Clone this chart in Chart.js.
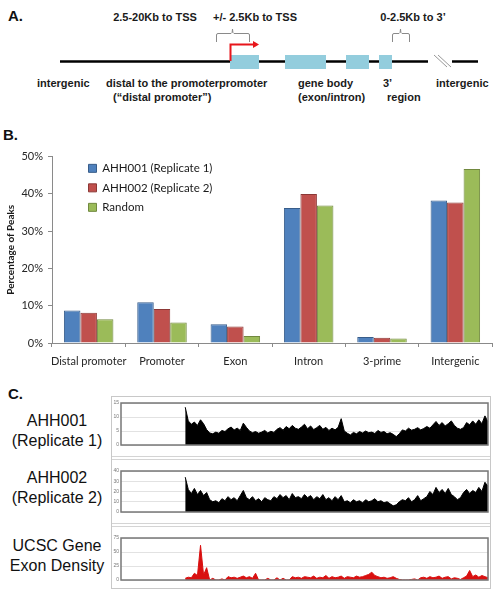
<!DOCTYPE html>
<html><head><meta charset="utf-8">
<script src="https://cdn.jsdelivr.net/npm/chart.js@4.4.0/dist/chart.umd.min.js"></script>
<style>
html,body{margin:0;padding:0;background:#fff;width:498px;height:595px;overflow:hidden;font-family:"Liberation Sans",Arial,sans-serif;}
canvas{position:absolute;}
.plabel{position:absolute;font-weight:bold;font-size:15px;color:#111;line-height:16px;}
.tl{position:absolute;left:0;width:114px;text-align:center;font-size:16px;color:#111;line-height:20px;white-space:nowrap;}
.sep{position:absolute;left:112px;width:378px;height:0;border-top:1px solid #d4d4d4;}
svg text{font-family:"Liberation Sans",Arial,sans-serif;font-weight:bold;font-size:11px;fill:#1a1a1a;}
</style></head><body>

<svg width="498" height="110" style="position:absolute;left:0;top:0">
  <text x="8" y="21" style="font-size:15px;fill:#111">A.</text>
  <text x="155" y="21" text-anchor="middle">2.5-20Kb to TSS</text>
  <text x="255" y="21" text-anchor="middle">+/- 2.5Kb to TSS</text>
  <text x="413" y="21" text-anchor="middle">0-2.5Kb to 3’</text>
  <path d="M216.5,42 V35 Q216.5,33.5 218,33.5 H231 Q232.5,33.5 232.5,29 Q232.5,33.5 234,33.5 H248 Q249.5,33.5 249.5,35 V42" fill="none" stroke="#8a8a8a" stroke-width="1"/>
  <path d="M392.5,42 V35 Q392.5,33.5 394,33.5 H399 Q400.5,33.5 400.5,29 Q400.5,33.5 402,33.5 H408 Q409.5,33.5 409.5,35 V42" fill="none" stroke="#8a8a8a" stroke-width="1"/>
  <line x1="60" y1="61.5" x2="428" y2="61.5" stroke="#000" stroke-width="2.5"/>
  <line x1="452" y1="61.5" x2="478" y2="61.5" stroke="#000" stroke-width="2.5"/>
  <line x1="434" y1="55" x2="447" y2="67" stroke="#999" stroke-width="1"/>
  <line x1="438" y1="55" x2="451" y2="67" stroke="#999" stroke-width="1"/>
  <rect x="230" y="55" width="29" height="14" fill="#93cddd"/>
  <rect x="285" y="55" width="41" height="14" fill="#93cddd"/>
  <rect x="346" y="55" width="23" height="14" fill="#93cddd"/>
  <rect x="379" y="55" width="13" height="14" fill="#93cddd"/>
  <path d="M230.5,61 V44.5 H254" fill="none" stroke="#e8151b" stroke-width="2"/>
  <polygon points="253,41 259,44.5 253,48" fill="#e8151b"/>
  <text x="37" y="87">intergenic</text>
  <text x="106" y="87">distal to the promoterpromoter</text>
  <text x="298" y="87">gene body</text>
  <text x="383" y="87">3’</text>
  <text x="436" y="87">intergenic</text>
  <text x="113" y="101">(“distal promoter”)</text>
  <text x="298" y="101">(exon/intron)</text>
  <text x="387" y="101">region</text>
</svg>

<div class="plabel" style="left:3px;top:127px">B.</div>
<canvas id="barChart" width="498" height="228" style="left:0;top:145px"></canvas>

<div class="plabel" style="left:8px;top:386px">C.</div>
<div style="position:absolute;left:111px;top:396px;width:380px;height:193px;box-sizing:border-box;border:1.5px solid #c8c8c8"></div>
<div class="sep" style="top:456px"></div>
<div class="sep" style="top:459px"></div>
<div class="sep" style="top:523px"></div>
<div class="sep" style="top:526px"></div>
<div class="tl" style="top:410.7px">AHH001<br>(Replicate 1)</div>
<div class="tl" style="top:468px">AHH002<br>(Replicate 2)</div>
<div class="tl" style="top:536px">UCSC Gene<br>Exon Density</div>
<canvas id="track1" width="380" height="52" style="left:111px;top:398px"></canvas>
<canvas id="track2" width="380" height="51" style="left:111px;top:466px"></canvas>
<canvas id="track3" width="380" height="52" style="left:111px;top:533px"></canvas>

<script>
// ---------- Panel B data ----------
const categories = ['Distal promoter', 'Promoter', 'Exon', 'Intron', '3-prime', 'Intergenic'];
const seriesNames = ['AHH001 (Replicate 1)', 'AHH002 (Replicate 2)', 'Random'];
const ahh001 = [8.7, 10.9, 5.0, 36.2, 1.6, 38.2];
const ahh002 = [8.1, 9.1, 4.4, 40.0, 1.4, 37.7];
const randomPeaks = [6.4, 5.5, 1.9, 36.9, 1.2, 46.7];
const yTickValues = [0, 10, 20, 30, 40, 50];

// ---------- Panel C data (binned track heights) ----------
const leadingEmpty = [null,null,null,null,null,null,null,null,null,null,null,null,null,null,null,null,null,null,null,null,null];
const track1Values = [13.5,8.6,7.4,8.2,7.0,9.0,7.6,5.5,4.3,4.0,4.6,4.2,5.2,4.8,5.8,6.4,5.4,6.0,5.2,7.8,
  6.3,5.0,4.4,4.8,4.2,4.6,5.2,4.3,4.9,4.5,5.6,6.2,5.3,6.6,5.8,7.0,6.0,5.6,6.4,7.4,
  5.8,6.8,5.5,6.2,7.0,5.6,6.3,5.2,6.0,5.4,6.3,9.4,5.0,4.2,3.6,4.5,4.0,4.8,4.3,5.0,
  4.4,4.6,4.1,5.2,4.5,4.8,4.0,4.4,3.8,3.0,4.0,5.4,5.0,6.0,5.3,5.6,6.2,5.4,5.9,6.6,
  6.0,7.2,8.4,7.0,8.0,6.8,7.6,8.6,7.0,6.0,5.6,6.2,8.0,7.2,8.6,7.4,9.0,7.6,10.4,8.2];
const track2Values = [34,22,18,23,17,21,16,19,12,10,11,9,13,11,15,12,14,11,16,21,
  14,12,15,11,13,10,14,12,11,15,13,17,14,16,12,18,14,15,13,17,
  14,16,12,15,13,17,12,14,11,15,12,16,10,11,9,12,10,11,9,12,
  10,11,13,10,11,9,10,8,6,7,10,12,11,14,10,12,16,11,13,15,
  20,17,24,19,22,18,23,17,15,12,14,19,22,18,21,19,24,20,29,25];
const track3Values = [3,5,4,12,8,62,9,22,0,3,0,0,2,0,6,4,5,3,5,7,
  4,6,3,12,0,0,0,3,0,0,4,0,3,0,0,6,4,5,3,6,
  5,4,7,3,5,4,8,3,6,4,5,7,3,6,5,4,7,5,6,8,
  10,14,8,6,4,5,3,4,6,3,1,0,0,0,1,2,0,4,5,3,
  6,4,5,7,3,5,6,2,4,3,1,4,7,17,6,9,5,8,6,4];
const track1Ticks = [0, 5, 10, 15];
const track2Ticks = [0, 10, 20, 30, 40];
const track3Ticks = [0, 25, 50, 75];

const bodyFont = 'Lato, "Open Sans", sans-serif';

// place the in-plot legend where the reference has it
const legendShift = {
  id: 'legendShift',
  afterLayout(chart) {
    if (chart.legend) {
      chart.legend.left = chart.chartArea.left + 28.5;
      chart.legend.top = chart.chartArea.top - 2;
    }
  }
};

new Chart(document.getElementById('barChart'), {
  type: 'bar',
  data: {
    labels: categories,
    datasets: [
      { label: seriesNames[0], data: ahh001, backgroundColor: '#4f81bd', borderColor: '#385d8a', borderWidth: 1 },
      { label: seriesNames[1], data: ahh002, backgroundColor: '#c0504d', borderColor: '#8c3836', borderWidth: 1 },
      { label: seriesNames[2], data: randomPeaks, backgroundColor: '#9bbb59', borderColor: '#71893f', borderWidth: 1 }
    ]
  },
  options: {
    responsive: false,
    animation: false,
    layout: { padding: { top: 10, right: 6, left: 0, bottom: 0 } },
    datasets: { bar: { categoryPercentage: 0.675, barPercentage: 1.0 } },
    plugins: {
      legend: {
        position: 'chartArea',
        align: 'start',
        labels: { boxWidth: 8, boxHeight: 8, padding: 8, color: '#1a1a1a', font: { family: bodyFont, size: 11.5 } }
      },
      tooltip: { enabled: false }
    },
    scales: {
      x: {
        grid: { display: true, drawOnChartArea: false, drawTicks: true, tickLength: 4, color: '#8a8a8a', offset: true },
        border: { color: '#8a8a8a', width: 1 },
        ticks: { color: '#262626', padding: 8, font: { family: bodyFont, size: 11 }, maxRotation: 0, autoSkip: false },
        afterFit(s) { s.height = 30; }
      },
      y: {
        min: 0, max: 50,
        afterBuildTicks(s) { s.ticks = yTickValues.map(v => ({ value: v })); },
        grid: { display: true, drawOnChartArea: false, drawTicks: true, tickLength: 4, color: '#8a8a8a' },
        border: { color: '#8a8a8a', width: 1 },
        ticks: { color: '#262626', padding: 5, font: { family: bodyFont, size: 11 }, callback: v => v + '%' },
        title: { display: true, text: 'Percentage of Peaks', color: '#1a1a1a', padding: { top: 5, bottom: 0 }, font: { family: bodyFont, size: 10, weight: 'bold' } },
        afterFit(s) { s.width = 52; }
      }
    }
  },
  plugins: [legendShift]
});

// ---------- Panel C tracks ----------
const frame = {
  id: 'frame',
  afterDraw(chart) {
    const { ctx, chartArea: a } = chart;
    ctx.save();
    ctx.strokeStyle = '#777';
    ctx.lineWidth = 1.5;
    ctx.strokeRect(a.left, a.top, a.right - a.left, a.bottom - a.top);
    ctx.restore();
  }
};

function makeTrack(id, values, ticks, color) {
  const data = leadingEmpty.concat(values);
  const labels = data.map((_, i) => i);
  new Chart(document.getElementById(id), {
    type: 'line',
    data: {
      labels: labels,
      datasets: [{ data: data, fill: 'origin', backgroundColor: color, borderColor: color, borderWidth: 1, pointRadius: 0, tension: 0, spanGaps: false }]
    },
    options: {
      responsive: false,
      animation: false,
      layout: { padding: { top: 3, right: 3, left: 0, bottom: 2 } },
      plugins: { legend: { display: false }, tooltip: { enabled: false } },
      scales: {
        x: { display: false, offset: false },
        y: {
          min: ticks[0], max: ticks[ticks.length - 1],
          afterBuildTicks(s) { s.ticks = ticks.map(v => ({ value: v })); },
          grid: { color: '#e2e2e2', drawTicks: false },
          border: { display: false },
          ticks: { color: '#777', padding: 2, font: { family: '"Liberation Sans", Arial, sans-serif', size: 5 } },
          afterFit(s) { s.width = 10; }
        }
      }
    },
    plugins: [frame]
  });
}
makeTrack('track1', track1Values, track1Ticks, '#000');
makeTrack('track2', track2Values, track2Ticks, '#000');
makeTrack('track3', track3Values, track3Ticks, '#d91010');
</script>
</body></html>
